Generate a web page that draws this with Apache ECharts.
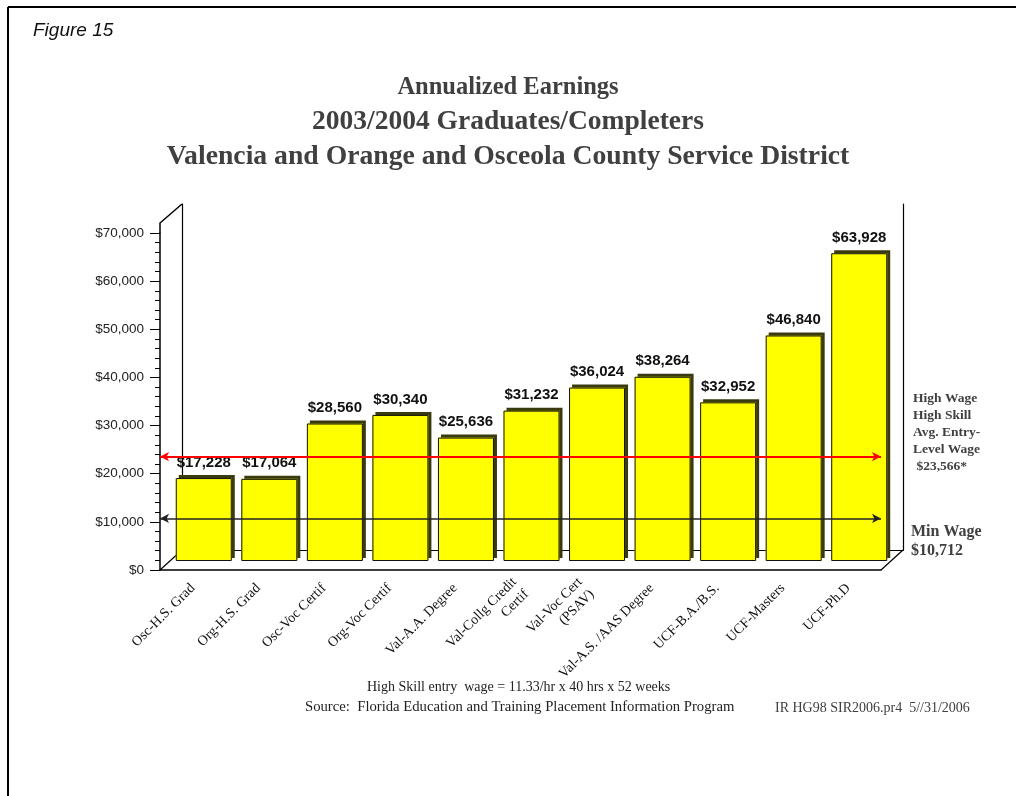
<!DOCTYPE html>
<html>
<head>
<meta charset="utf-8">
<script src="https://cdn.jsdelivr.net/npm/echarts@6/dist/echarts.min.js"></script>
<style>html,body{margin:0;padding:0;background:#fff;}#c{width:1016px;height:796px;}</style>
</head>
<body>
<div id="c"></div>
<script>
var categories = ['Osc-H.S. Grad','Org-H.S. Grad','Osc-Voc Certif','Org-Voc Certif','Val-A.A. Degree','Val-Collg Credit\nCertif','Val-Voc Cert\n(PSAV)','Val-A.S. /AAS Degree','UCF-B.A./B.S.','UCF-Masters','UCF-Ph.D'];
var earnings = [17228,17064,28560,30340,25636,31232,36024,38264,32952,46840,63928];
var highSkillWage = 23566;
var minWage = 10712;
var yTicks = {min:0, max:70000, interval:10000};
var titleLines = ['Annualized Earnings','2003/2004 Graduates/Completers','Valencia and Orange and Osceola County Service District'];

function money(v){ return '$' + Number(v).toLocaleString('en-US'); }

var chart = echarts.init(document.getElementById('c'));
var serif = 'Liberation Serif';
var sans = 'Liberation Sans';

var option = {
  backgroundColor:'#ffffff',
  animation:false,
  title:[
    {text:titleLines[0], left:'center', top:75, padding:0,
     textStyle:{fontFamily:serif, fontWeight:'bold', fontSize:24.5, color:'#404040'}},
    {text:titleLines[1], left:'center', top:108, padding:0,
     textStyle:{fontFamily:serif, fontWeight:'bold', fontSize:27.5, color:'#404040'}},
    {text:titleLines[2], left:'center', top:143, padding:0,
     textStyle:{fontFamily:serif, fontWeight:'bold', fontSize:27.7, color:'#404040'}}
  ],
  grid:[
    {left:160, right:135, top:233, bottom:226, outerBoundsMode:'none'},
    {left:171, right:124, top:224, bottom:235, outerBoundsMode:'none'},
    {left:182, right:113, top:204, bottom:246, outerBoundsMode:'none'}
  ],
  xAxis:[
    {gridIndex:0, type:'category', data:categories,
     axisLine:{show:true, lineStyle:{color:'#000', width:1.5}},
     axisTick:{show:false},
     axisLabel:{interval:0, rotate:45, margin:16, fontFamily:serif, fontSize:14, lineHeight:17, color:'#111'}},
    {gridIndex:1, type:'category', data:categories, show:false},
    {gridIndex:2, type:'category', data:categories, position:'bottom',
     axisLine:{show:true, lineStyle:{color:'#000', width:1.2}}, axisTick:{show:false}, axisLabel:{show:false}},
    {gridIndex:2, type:'category', data:categories, position:'top',
     axisLine:{show:true, lineStyle:{color:'#000', width:1.2}}, axisTick:{show:false}, axisLabel:{show:false}}
  ],
  yAxis:[
    {gridIndex:0, type:'value', min:yTicks.min, max:yTicks.max, interval:yTicks.interval,
     axisLine:{show:true, lineStyle:{color:'#000', width:1.5}},
     axisTick:{show:true, length:10, lineStyle:{color:'#000', width:1}},
     minorTick:{show:true, splitNumber:5, length:5, lineStyle:{color:'#000', width:1}},
     splitLine:{show:false},
     axisLabel:{margin:16, fontFamily:sans, fontSize:13.5, color:'#222', formatter:function(v){return money(v);}}},
    {gridIndex:1, type:'value', min:yTicks.min, max:yTicks.max, interval:yTicks.interval, show:false},
    {gridIndex:2, type:'value', min:0, max:1, position:'left',
     axisLine:{show:true, lineStyle:{color:'#000', width:1.2}}, axisTick:{show:false}, axisLabel:{show:false}, splitLine:{show:false}},
    {gridIndex:2, type:'value', min:0, max:1, position:'right',
     axisLine:{show:true, lineStyle:{color:'#000', width:1.2}}, axisTick:{show:false}, axisLabel:{show:false}, splitLine:{show:false}}
  ],
  series:[
    {type:'bar', xAxisIndex:1, yAxisIndex:1, data:earnings, barWidth:56, z:3, silent:true,
     itemStyle:{color:'#ffff00', shadowColor:'#3a3a10', shadowOffsetX:3, shadowOffsetY:-3, shadowBlur:0}},
    {type:'bar', xAxisIndex:1, yAxisIndex:1, data:earnings, barWidth:56, barGap:'-100%', z:4,
     itemStyle:{color:'rgba(0,0,0,0)', borderColor:'#111', borderWidth:1},
     label:{show:true, position:'top', distance:8, fontFamily:sans, fontWeight:'bold', fontSize:15, color:'#111',
       formatter:function(p){return money(p.value);}}},
    {type:'line', xAxisIndex:0, yAxisIndex:0, data:earnings, showSymbol:false, silent:true, z:5,
     lineStyle:{opacity:0, width:0},
     markLine:{silent:true, symbol:['arrow','arrow'], symbolSize:[7,9], label:{show:false},
       data:[
         {yAxis:highSkillWage, lineStyle:{color:'#ff0000', width:2, type:'solid'}},
         {yAxis:minWage, lineStyle:{color:'#222', width:1.5, type:'solid'}}
       ]}}
  ],
  graphic:[
    {type:'line', shape:{x1:8, y1:7, x2:1016, y2:7}, style:{stroke:'#000', lineWidth:2}},
    {type:'line', shape:{x1:8, y1:7, x2:8, y2:796}, style:{stroke:'#000', lineWidth:2}},
    {type:'polyline', shape:{points:[[160,233],[160,223],[182,204]]}, style:{stroke:'#000', lineWidth:1.5, fill:null}},
    {type:'line', shape:{x1:160, y1:570, x2:182, y2:550}, style:{stroke:'#000', lineWidth:1.2}},
    {type:'line', shape:{x1:881, y1:570, x2:903, y2:550}, style:{stroke:'#000', lineWidth:1.2}},
    {type:'text', left:33, top:21, style:{text:'Figure 15', font:'italic 19px "Liberation Sans"', fill:'#111'}},
    {type:'text', left:913, top:390, style:{text:'High Wage\nHigh Skill\nAvg. Entry-\nLevel Wage\n $23,566*', font:'bold 13.5px "Liberation Serif"', lineHeight:17, fill:'#404040'}},
    {type:'text', left:911, top:522, style:{text:'Min Wage\n$10,712', font:'bold 16px "Liberation Serif"', lineHeight:19, fill:'#404040'}},
    {type:'text', left:367, top:680, style:{text:'High Skill entry  wage = 11.33/hr x 40 hrs x 52 weeks', font:'14px "Liberation Serif"', fill:'#222'}},
    {type:'text', left:305, top:700, style:{text:'Source:  Florida Education and Training Placement Information Program', font:'14.7px "Liberation Serif"', fill:'#222'}},
    {type:'text', left:775, top:701, style:{text:'IR HG98 SIR2006.pr4  5//31/2006', font:'14px "Liberation Serif"', fill:'#404040'}}
  ]
};
chart.setOption(option);
</script>
</body>
</html>
